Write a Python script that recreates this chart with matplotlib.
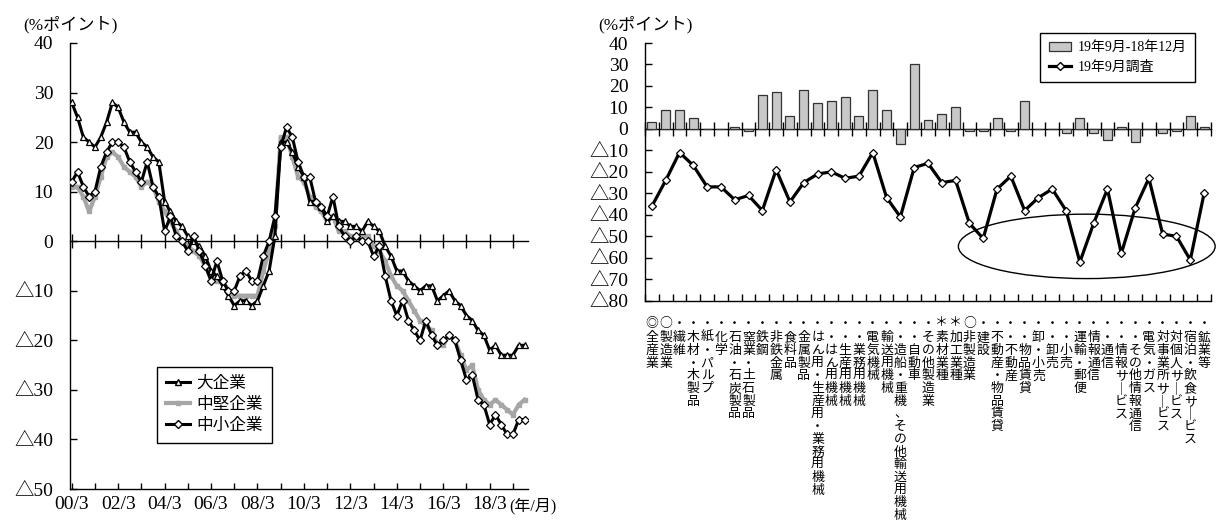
import matplotlib
matplotlib.use("Agg")
import matplotlib.pyplot as plt
from matplotlib.lines import Line2D
from matplotlib.patches import Patch, Ellipse
import numpy as np

plt.rcParams['font.family'] = ['Liberation Serif', 'Noto Sans CJK JP']

# ---------------- left panel: business conditions DI by firm size ----------------
# quarterly, 2000/3 ... 2019/9
large = [28, 25, 21, 20, 19, 21, 24, 28, 27, 24, 22, 22, 20, 19, 17, 16, 8, 6, 4, 3, 1,
         0, -1, -3, -6, -7, -9, -11, -13, -12, -12, -13, -12, -9, -6, 1,
         20, 20, 18, 15, 13, 8, 8, 7, 4, 5, 4, 4, 3, 3, 2, 4, 3, 2, -1,
         -3, -6, -6, -8, -9, -10, -9, -9, -12, -11, -10, -12, -13, -15, -16, -18,
         -19, -22, -21, -23, -23, -23, -21, -21]
medium = [11, 11, 9, 6, 9, 13, 17, 18, 17, 15, 14, 13, 11, 12, 11, 8, 6, 4, 2, 0,
          -1, -2, -3, -5, -7, -8, -8, -10, -11, -11, -11, -11, -11, -6, -2, 3,
          21, 21, 17, 13, 12, 9, 7, 6, 4, 5, 2, 2, 1, 1, 1, 1, -1, -2, -4,
          -7, -9, -10, -12, -14, -16, -17, -18, -21, -21, -19, -20, -23, -26, -25, -30,
          -32, -33, -32, -33, -34, -35, -33, -32]
small = [12, 14, 11, 9, 10, 15, 18, 20, 20, 19, 16, 14, 12, 16, 11, 9, 2, 5, 1, 0,
         -2, 1, -2, -5, -8, -4, -8, -10, -10, -7, -6, -8, -8, -3, 0, 5, 19, 23,
         21, 16, 13, 13, 8, 7, 5, 9, 3, 1, 0, 1, 0, 0, -3, -1, -7,
         -12, -15, -12, -16, -18, -20, -16, -19, -21, -20, -19, -20, -24, -28, -27, -32,
         -33, -37, -35, -37, -39, -39, -36, -36]
size_names = ['大企業', '中堅企業', '中小企業']
year_labels = ['00/3', '', '02/3', '', '04/3', '', '06/3', '', '08/3', '', '10/3', '',
               '12/3', '', '14/3', '', '16/3', '', '18/3', '']

# ---------------- right panel: by industry ----------------
industries = ['◎全産業', '○製造業', '・繊維', '・木材・木製品', '・紙・パルプ', '・化学',
              '・石油・石炭製品', '・窯業・土石製品', '・鉄鋼', '・非鉄金属', '・食料品',
              '・金属製品', '・はん用・生産用・業務用機械', '・・はん用機械', '・・生産用機械',
              '・・業務用機械', '・電気機械', '・輸送用機械', '・・造船・重機、その他輸送用機械',
              '・・自動車', '・その他製造業', '＊素材業種', '＊加工業種', '○非製造業', '・建設',
              '・不動産・物品賃貸', '・・不動産', '・・物品賃貸', '・卸・小売', '・・卸売',
              '・・小売', '・運輸・郵便', '・情報通信', '・・通信', '・・情報サービス',
              '・・その他情報通信', '・電気・ガス', '・対事業所サービス', '・対個人サービス',
              '・宿泊・飲食サービス', '・鉱業等']
change = [3, 9, 9, 5, 0, 0, 1, -1, 16, 17, 6, 18, 12, 13, 15, 6, 18, 9, -7, 30, 4,
          7, 10, -1, -1, 5, -1, 13, 0, 0, -2, 5, -2, -5, 1, -6, 0, -2, -1, 6, 1]
sep2019 = [-36, -24, -11, -17, -27, -27, -33, -31, -38, -19, -34, -25, -21, -20, -23,
           -22, -11, -32, -41, -18, -16, -25, -24, -44, -51, -28, -22, -38, -32, -28,
           -38, -62, -44, -28, -58, -37, -23, -49, -50, -61, -30]
bar_name = '19年9月-18年12月'
line_name = '19年9月調査'
unit_label = '(%ポイント)'


def di_label(v):
    return f'△{-v}' if v < 0 else f'{v}'


def zero_axis(ax, ticks, length):
    """Horizontal axis line through y=0 with ticks crossing it."""
    az = ax.twiny()
    az.set_xlim(ax.get_xlim())
    for s in ('top', 'right', 'left'):
        az.spines[s].set_visible(False)
    az.spines['bottom'].set_position(('data', 0))
    az.spines['bottom'].set_linewidth(1.0)
    az.xaxis.set_ticks_position('bottom')
    az.set_xticks(ticks)
    az.tick_params(axis='x', direction='inout', length=length, width=1.0,
                   labelbottom=False, labeltop=False)
    az.set_zorder(ax.get_zorder() - 1)
    ax.patch.set_visible(False)
    return az


W, H = 1217, 525
fig = plt.figure(figsize=(W / 100, H / 100), dpi=100)

# ---- left panel ----
ax1 = fig.add_axes([70 / W, (H - 489) / H, 458 / W, 446 / H])
q = np.arange(len(large))
ax1.plot(q, medium, color='#A6A6A6', lw=3.0, marker='s', ms=2.5, mfc='#A6A6A6',
         mec='#A6A6A6', zorder=2)
ax1.plot(q, large, color='black', lw=2.2, marker='^', ms=5, mfc='white', mec='black',
         mew=0.9, zorder=3)
ax1.plot(q, small, color='black', lw=2.2, marker='D', ms=3.6, mfc='white', mec='black',
         mew=0.9, zorder=4)
ax1.set_xlim(-0.3, 78.6)
ax1.set_ylim(-50, 40)
yt = list(range(-50, 41, 10))
ax1.set_yticks(yt)
ax1.set_yticklabels([di_label(v) for v in yt])
xt = list(range(0, 80, 4))
ax1.set_xticks(xt)
ax1.set_xticklabels(year_labels)
for s in ('top', 'right'):
    ax1.spines[s].set_visible(False)
for s in ('left', 'bottom'):
    ax1.spines[s].set_linewidth(1.0)
ax1.tick_params(axis='y', direction='in', length=5, width=1.0, labelsize=14, pad=12)
ax1.tick_params(axis='x', direction='in', length=4.5, width=1.0, labelsize=14, pad=5)
zero_axis(ax1, xt, 10)

handles = [
    Line2D([], [], color='black', lw=2.2, marker='^', ms=5, mfc='white', mec='black'),
    Line2D([], [], color='#A6A6A6', lw=3.0, marker='s', ms=3, mfc='#A6A6A6', mec='#A6A6A6'),
    Line2D([], [], color='black', lw=2.2, marker='D', ms=3.6, mfc='white', mec='black'),
]
leg1 = ax1.legend(handles, size_names, loc='upper left', bbox_to_anchor=(0.19, 0.274),
                  fancybox=False, edgecolor='black', framealpha=1, fontsize=12,
                  handlelength=1.45, handletextpad=0.35, labelspacing=0.3,
                  borderpad=0.55, borderaxespad=0)
leg1.get_frame().set_linewidth(1.0)

fig.text(23 / W, 1 - 25 / H, unit_label, ha='left', va='center', fontsize=12.3)
fig.text(509 / W, 1 - 506 / H, '(年/月)', ha='left', va='center', fontsize=11.5)

# ---- right panel ----
ax2 = fig.add_axes([645 / W, (H - 300.7) / H, 566 / W, 257.7 / H])
xi = np.arange(len(industries))
ax2.bar(xi, change, width=0.65, color='#C8C8C8', edgecolor='#333333', linewidth=0.9,
        zorder=2)
ax2.plot(xi, sep2019, color='black', lw=2.3, marker='D', ms=3.6, mfc='white',
         mec='black', mew=0.9, zorder=4)
ax2.set_xlim(-0.5, len(industries) - 0.5)
ax2.set_ylim(-80, 40)
yt2 = list(range(-80, 41, 10))
ax2.set_yticks(yt2)
ax2.set_yticklabels([di_label(v) for v in yt2])
bounds = np.arange(len(industries) + 1) - 0.5
ax2.set_xticks(bounds)
ax2.set_xticklabels([])
for s in ('top', 'right'):
    ax2.spines[s].set_visible(False)
for s in ('left', 'bottom'):
    ax2.spines[s].set_linewidth(1.0)
ax2.tick_params(axis='y', direction='in', length=5, width=1.0, labelsize=14, pad=12)
ax2.tick_params(axis='x', direction='in', length=5, width=1.0)
zero_axis(ax2, bounds, 10)

ax2.add_patch(Ellipse((31.5, -54.7), width=18.6, height=30, fill=False,
                      edgecolor='black', linewidth=1.0, clip_on=False, zorder=3))

leg2 = ax2.legend([Patch(facecolor='#C8C8C8', edgecolor='#333333', linewidth=0.9),
                   Line2D([], [], color='black', lw=2.3, marker='D', ms=3.6,
                          mfc='white', mec='black')],
                  [bar_name, line_name], loc='upper right',
                  bbox_to_anchor=(0.972, 1.039), fancybox=False, edgecolor='black',
                  framealpha=1, fontsize=10, handlelength=1.6, handletextpad=0.5,
                  labelspacing=0.45, borderpad=0.6, borderaxespad=0)
leg2.get_frame().set_linewidth(1.0)

fig.text(598 / W, 1 - 25 / H, unit_label, ha='left', va='center', fontsize=12.3)

# vertical category names, one glyph per row
vert = str.maketrans({'ー': '｜'})
for i, name in enumerate(industries):
    for r, ch in enumerate(name.translate(vert)):
        ypix = 323 if r == 0 else 325 + 12.7 * r
        ax2.annotate(ch, xy=(i, 0), xycoords=('data', 'axes fraction'),
                     xytext=(0, -(ypix - 300.7)), textcoords='offset pixels',
                     ha='center', va='center', fontsize=9.3,
                     family=['Noto Sans CJK JP', 'DejaVu Sans'], annotation_clip=False)

fig.savefig('out.png', dpi=100, facecolor='white')
